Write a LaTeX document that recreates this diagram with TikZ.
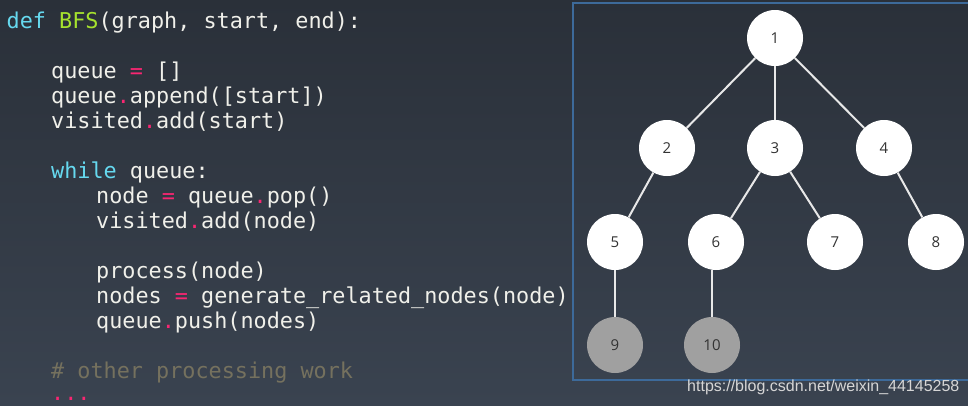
\documentclass[tikz,border=0pt]{standalone}
\usepackage{fontspec}
\newfontfamily\codefont{DejaVu Sans Mono}
\newfontfamily\treefont{Open Sans}
\newfontfamily\markfont{Liberation Sans}
\definecolor{bgtop}{HTML}{2A3039}
\definecolor{bgbot}{HTML}{3A4350}
\definecolor{panelc}{HTML}{3D6A9A}
\definecolor{plain}{HTML}{F0F0EA}
\definecolor{kw}{HTML}{66D9EF}
\definecolor{fn}{HTML}{A6E22E}
\definecolor{pk}{HTML}{F92672}
\definecolor{cm}{HTML}{75715E}
\definecolor{edgec}{HTML}{E8E8E8}
\definecolor{grayn}{HTML}{A0A0A0}
\definecolor{wmark}{HTML}{D6D6D6}
\newcommand{\kwd}[1]{\textcolor{kw}{#1}}
\newcommand{\opr}[1]{\textcolor{pk}{#1}}
\begin{document}
\begin{tikzpicture}[x=1pt,y=-1pt,
  codeline/.style={anchor=base west,inner sep=0pt,text=plain,font=\codefont\fontsize{21.8}{25}\selectfont},
  treenode/.style={circle,minimum size=56pt,inner sep=0pt,fill=white,text=black!80,font=\treefont\fontsize{15}{18}\selectfont},
  leafgray/.style={treenode,fill=grayn},
  treeedge/.style={draw=edgec,line width=2pt}]
\useasboundingbox (0,0) rectangle (968,405);
\shade[top color=bgtop,bottom color=bgbot] (0,0) rectangle (968,405);
\draw[panelc,line width=1.5pt] (968,3) -- (573,3) -- (573,380) -- (968,380);
% code
\node[codeline] (l1) at (6.5,28) {\kwd{def} \textcolor{fn}{BFS}(graph, start, end):};
\node[codeline] (l2) at (51,78) {queue \opr{=} []};
\node[codeline] (l3) at (51,103) {queue\opr{.}append([start])};
\node[codeline] (l4) at (51,128) {visited\opr{.}add(start)};
\node[codeline] (l5) at (51,178) {\kwd{while} queue:};
\node[codeline] (l6) at (96,203) {node \opr{=} queue\opr{.}pop()};
\node[codeline] (l7) at (96,228) {visited\opr{.}add(node)};
\node[codeline] (l8) at (96,278) {process(node)};
\node[codeline] (l9) at (96,303) {nodes \opr{=} generate\_related\_nodes(node)};
\node[codeline] (l10) at (96,328) {queue\opr{.}push(nodes)};
\node[codeline,text=cm] (l11) at (51,378) {\# other processing work};
\node[codeline,text=pk] (l12) at (51,400) {...};
% tree
\node[treenode] (n1) at (775,38) {1};
\node[treenode] (n2) at (667,148) {2};
\node[treenode] (n3) at (775,148) {3};
\node[treenode] (n4) at (884,148) {4};
\node[treenode] (n5) at (615,242) {5};
\node[treenode] (n6) at (716,242) {6};
\node[treenode] (n7) at (835,242) {7};
\node[treenode] (n8) at (936,242) {8};
\node[leafgray] (n9) at (615,345) {9};
\node[leafgray] (n10) at (712,345) {10};
\draw[treeedge] (n1) -- (n2);
\draw[treeedge] (n1) -- (n3);
\draw[treeedge] (n1) -- (n4);
\draw[treeedge] (n2) -- (n5);
\draw[treeedge] (n3) -- (n6);
\draw[treeedge] (n3) -- (n7);
\draw[treeedge] (n4) -- (n8);
\draw[treeedge] (n5) -- (n9);
\draw[treeedge] (n10.north) -- (n10.north |- n6.south);
% watermark
\node[anchor=base west,inner sep=0pt,text=wmark,font=\markfont\fontsize{16}{18}\selectfont] (wm) at (687,391) {https://blog.csdn.net/weixin\_44145258};
\end{tikzpicture}
\end{document}
